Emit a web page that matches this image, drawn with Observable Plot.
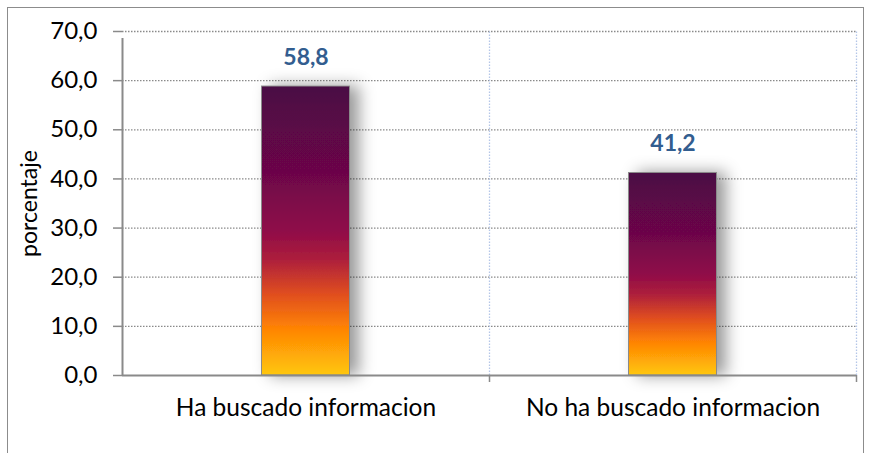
<!DOCTYPE html>
<html><head><meta charset="utf-8">
<script src="https://cdn.jsdelivr.net/npm/d3@7"></script>
<script src="https://cdn.jsdelivr.net/npm/@observablehq/plot@0.6"></script>
<style>
body{margin:0;background:#fff;}
#wrap{position:relative;width:870px;height:455px;}
#border{position:absolute;left:7px;top:7px;width:857px;height:446px;border:1.5px solid #8c8c8c;box-sizing:border-box;border-bottom:none;}
#chart{position:absolute;left:0;top:0;}
</style></head>
<body><div id="wrap"><div id="border"></div><div id="chart"></div></div>
<script>
const categories = ["Ha buscado informacion", "No ha buscado informacion"];
const values = [58.8, 41.2];
const yTicks = [0, 10, 20, 30, 40, 50, 60, 70];
const yLabel = "porcentaje";

const data = categories.map((c, i) => ({cat: c, val: values[i]}));
const fmt = d => d.toFixed(1).replace(".", ",");
const W = 870, H = 455, mL = 122, mR = 14, mT = 31, mB = 80;
const step = (W - mL - mR) / categories.length;
const barW = 88;
const inset = (step - barW) / 2;
const font = "Lato, 'Open Sans', sans-serif";

const plot = Plot.plot({
  width: W, height: H,
  marginLeft: mL, marginRight: mR, marginTop: mT, marginBottom: mB,
  style: {fontFamily: font, fontSize: "22px", color: "#000", background: "transparent"},
  x: {domain: categories, padding: 0},
  y: {domain: [0, 70]},
  marks: [
    Plot.ruleY(yTicks.filter(d => d > 0), {stroke: "#8a8a8a", strokeWidth: 1.3, strokeDasharray: "1.5,1.5"}),
    Plot.ruleX(categories, {x: d => d, dx: step / 2, y1: 0, y2: 70, stroke: "#b4c6e7", strokeWidth: 1.3, strokeDasharray: "1.5,1.5"}),
    Plot.barY(data, {x: "cat", y: "val", fill: "url(#barGrad)", stroke: "#8a8a8a", strokeWidth: 1, insetLeft: inset, insetRight: inset}),
    Plot.ruleY([0], {stroke: "#8a8a8a", strokeWidth: 2}),
    Plot.ruleX([categories[0]], {x: d => d, dx: -step / 2, y1: 0, y2: 70, insetBottom: -7, stroke: "#8a8a8a", strokeWidth: 2}),
    Plot.ruleX(categories, {x: d => d, dx: step / 2, y1: 0, y2: 0, insetBottom: -7, stroke: "#8a8a8a", strokeWidth: 1.5}),
    Plot.axisY(yTicks, {tickSize: 9, tickPadding: 16, tickFormat: fmt, stroke: "#8a8a8a", strokeWidth: 1.5, label: null, fontSize: 24}),
    Plot.axisX({tickSize: 0, tickPadding: 23, label: null, fontSize: 24.5}),
    Plot.text([yLabel], {frameAnchor: "left", dx: -93, rotate: -90, textAnchor: "middle", text: d => d, fontSize: 23}),
    Plot.text(data, {x: "cat", y: "val", text: d => fmt(d.val), dy: -29, fontWeight: "bold", fill: "#325d8f", fontSize: 23})
  ]
});

const svg = d3.select(plot);
const defs = svg.insert("defs", ":first-child");
const g = defs.append("linearGradient").attr("id", "barGrad").attr("x1", 0).attr("y1", 0).attr("x2", 0).attr("y2", 1);
[[0, "#4a0844"], [0.3, "#6c0648"], [0.5, "#8f0a48"], [0.6, "#ad1f3c"], [0.72, "#e04e1f"], [0.84, "#ff8404"], [1, "#ffc70a"]]
  .forEach(([o, c]) => g.append("stop").attr("offset", o).attr("stop-color", c));
const f = defs.append("filter").attr("id", "shadow").attr("x", "-50%").attr("y", "-20%").attr("width", "200%").attr("height", "140%");
f.append("feDropShadow").attr("dx", 9).attr("dy", 0).attr("stdDeviation", 8).attr("flood-color", "#000").attr("flood-opacity", 0.4);
svg.selectAll("g[aria-label='bar'] rect").attr("filter", "url(#shadow)");
document.getElementById("chart").appendChild(plot);
</script></body></html>
